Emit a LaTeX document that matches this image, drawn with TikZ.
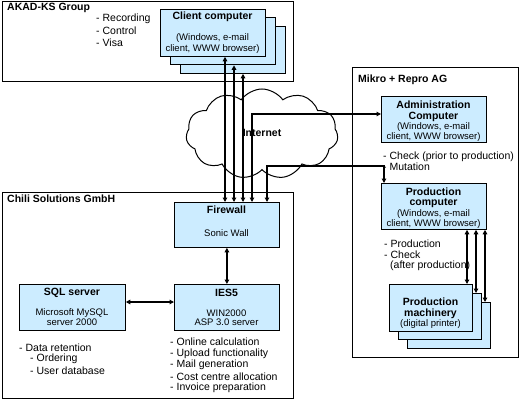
\documentclass[tikz,border=0pt]{standalone}
\usepackage{fontspec}
\setmainfont{Liberation Sans}
\usetikzlibrary{arrows.meta,shapes.symbols}
\definecolor{boxblue}{RGB}{204,236,255}
\tikzset{
  grp/.style={draw=black,line width=1pt,fill=white,anchor=north west,inner sep=0pt},
  bbox/.style={draw=black,line width=0.8pt,fill=boxblue,anchor=north west,inner sep=0pt},
  ttl/.style={font=\fontsize{10.5}{12}\selectfont\bfseries,inner sep=0pt},
  sml/.style={font=\fontsize{9.5}{10}\selectfont,inner sep=0pt},
  lst/.style={font=\fontsize{10.5}{11.5}\selectfont,inner sep=0pt,anchor=west},
  gttl/.style={font=\fontsize{10.5}{12}\selectfont\bfseries,inner sep=0pt,anchor=west},
  dbl/.style={line width=1.4pt,{Triangle[length=4.5pt,width=4.5pt]}-{Triangle[length=4.5pt,width=4.5pt]}},
}
\begin{document}
\begin{tikzpicture}[x=1pt,y=-1pt]
\useasboundingbox (0,0) rectangle (529,401);
% groups
\node[grp,minimum width=291pt,minimum height=80pt] (akad) at (2,1) {};
\node[gttl] (akadt) at (7,8) {AKAD-KS Group};
\node[grp,minimum width=291pt,minimum height=206pt] (chili) at (2,192) {};
\node[gttl] (chilit) at (7,199) {Chili Solutions GmbH};
\node[grp,minimum width=166pt,minimum height=290pt] (mikro) at (352,67) {};
\node[gttl] (mikrot) at (358,80) {Mikro + Repro AG};
% AKAD list
\node[lst] (l1) at (96,18.3) {- Recording};
\node[lst] (l2) at (96,30.7) {- Control};
\node[lst] (l3) at (96,42.7) {- Visa};
% client computers
\node[bbox,minimum width=105pt,minimum height=47pt] (cc3) at (180,26) {};
\node[bbox,minimum width=105pt,minimum height=47pt] (cc2) at (170,17.5) {};
\node[bbox,minimum width=105pt,minimum height=47pt] (cc1) at (160,9) {};
\node[ttl] (cct) at (212.5,17) {Client computer};
\node[sml] (ccs1) at (212.5,38) {(Windows, e-mail};
\node[sml] (ccs2) at (212.5,49) {client, WWW browser)};
% cloud
\node[cloud,draw=black,line width=1pt,fill=white,cloud puffs=11,cloud puff arc=110,aspect=1.7,minimum width=152pt,minimum height=90pt,inner sep=0pt] (net) at (262,134) {};
% firewall etc
\node[bbox,minimum width=105pt,minimum height=45pt] (fw) at (174,202) {};
\node[ttl] (fwt) at (226.5,210) {Firewall};
\node[sml] (fws) at (226.5,233) {Sonic Wall};
\node[bbox,minimum width=105pt,minimum height=46pt] (ies) at (174,284) {};
\node[ttl] (iest) at (226.5,293) {IES5};
\node[sml] (iess1) at (226.5,313) {WIN2000};
\node[sml] (iess2) at (226.5,322.5) {ASP 3.0 server};
\node[bbox,minimum width=106pt,minimum height=46pt] (sql) at (19,284) {};
\node[ttl] (sqlt) at (72,293) {SQL server};
\node[sml] (sqls1) at (72,313) {Microsoft MySQL};
\node[sml] (sqls2) at (72,322.5) {server 2000};
% lists chili
\node[lst] (d1) at (19,348) {- Data retention};
\node[lst] (d2) at (30,359) {- Ordering};
\node[lst] (d3) at (30,370.5) {- User database};
\node[lst] (i1) at (170,342) {- Online calculation};
\node[lst] (i2) at (170,353.5) {- Upload functionality};
\node[lst] (i3) at (170,365) {- Mail generation};
\node[lst] (i4) at (170,376.5) {- Cost centre allocation};
\node[lst] (i5) at (170,388) {- Invoice preparation};
% mikro
\node[bbox,minimum width=105pt,minimum height=46pt] (adm) at (381,96) {};
\node[ttl] (admt1) at (433.5,105) {Administration};
\node[ttl] (admt2) at (433.5,116.5) {Computer};
\node[sml] (adms1) at (433.5,127) {(Windows, e-mail};
\node[sml] (adms2) at (433.5,137) {client, WWW browser)};
\node[lst] (m1) at (383,157) {- Check (prior to production)};
\node[lst] (m2) at (383,167) {- Mutation};
\node[bbox,minimum width=105pt,minimum height=46pt] (pc) at (381,183) {};
\node[ttl] (pct1) at (433.5,191.5) {Production};
\node[ttl] (pct2) at (433.5,203) {computer};
\node[sml] (pcs1) at (433.5,214) {(Windows, e-mail};
\node[sml] (pcs2) at (433.5,224) {client, WWW browser)};
\node[lst] (p1) at (384,244) {- Production};
\node[lst] (p2) at (384,254.5) {- Check};
\node[lst] (p3) at (390,266) {(after production)};
\node[bbox,minimum width=83pt,minimum height=46pt] (pm3) at (407,302) {};
\node[bbox,minimum width=83pt,minimum height=46pt] (pm2) at (398,293) {};
\node[bbox,minimum width=83pt,minimum height=47pt] (pm1) at (389,284) {};
\node[ttl] (pmt1) at (430.5,302) {Production};
\node[ttl] (pmt2) at (430.5,314) {machinery};
\node[sml] (pms) at (430.5,324.5) {(digital printer)};
% connectors
\coordinate (k1) at (252,114);
\coordinate (k2) at (267,166);
\coordinate (k3) at (384,166);
\draw[dbl] (225,0 |- fw.north) -- (225,0 |- cc1.south);
\draw[dbl] (234,0 |- fw.north) -- (234,0 |- cc2.south);
\draw[dbl] (243,0 |- fw.north) -- (243,0 |- cc3.south);
\draw[dbl] (k1 |- fw.north) -- (k1) -- (adm.west |- k1);
\draw[dbl] (k2 |- fw.north) -- (k2) -- (k3) -- (k3 |- pc.north);
\node[ttl] (nett) at (262,133) {Internet};
\draw[dbl] (fw.south) -- (fw.south |- ies.north);
\draw[dbl] (sql.east |- 0,302) -- (ies.west |- 0,302);
\draw[dbl] (467,0 |- pc.south) -- (467,0 |- pm1.north);
\draw[dbl] (476,0 |- pc.south) -- (476,0 |- pm2.north);
\draw[dbl] (485,0 |- pc.south) -- (485,0 |- pm3.north);
\end{tikzpicture}
\end{document}
